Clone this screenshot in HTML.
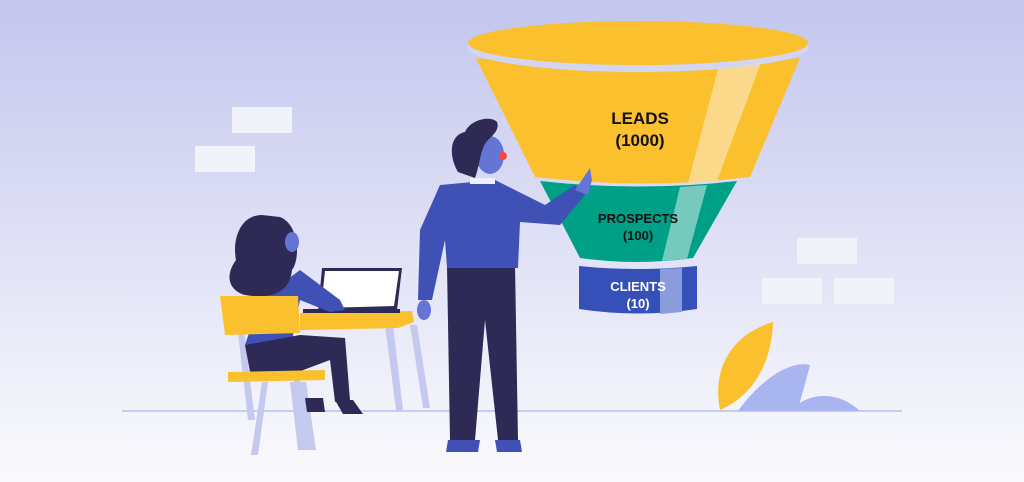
<!DOCTYPE html>
<html><head><style>
html,body{margin:0;padding:0;width:1024px;height:482px;overflow:hidden}
svg{display:block}
text{font-family:"Liberation Sans",sans-serif;font-weight:bold;text-anchor:middle}
</style></head><body>
<svg width="1024" height="482" viewBox="0 0 1024 482" xmlns="http://www.w3.org/2000/svg">
<defs>
<linearGradient id="bg" x1="0" y1="0" x2="0" y2="1">
<stop offset="0" stop-color="#c3c6ee"/><stop offset="0.85" stop-color="#f3f3fb"/><stop offset="1" stop-color="#fafafd"/>
</linearGradient>
</defs>
<rect width="1024" height="482" fill="url(#bg)"/>
<rect x="122" y="410" width="780" height="2" fill="#c5cdf5"/>
<g fill="#f1f2fa">
<rect x="232" y="107" width="60" height="26"/>
<rect x="195" y="146" width="60" height="26"/>
<rect x="797" y="238" width="60" height="26"/>
<rect x="762" y="278" width="60" height="26"/>
<rect x="834" y="278" width="60" height="26"/>
</g>
<path d="M720 410 C712 370 730 335 773 322 C772 360 755 395 720 410Z" fill="#fbc02d"/>
<path d="M738 411 C760 380 790 360 810 365 C805 385 800 400 798 411Z" fill="#a9b5f0"/>
<path d="M790 411 C810 390 840 392 860 411Z" fill="#a9b5f0"/>
<!-- funnel -->
<path d="M476 58 Q638 76 800 58 L750 177 Q642 190 535 177Z" fill="#fbc02d"/>
<path d="M720 62 L762 60 L717 181 L688 183Z" fill="#fcd98a"/>
<ellipse cx="638" cy="47" rx="171" ry="25" fill="#d3d6f2"/>
<ellipse cx="638" cy="43" rx="170" ry="22" fill="#fbc02d"/>
<path d="M540 181 Q640 192 737 181 L693 258 Q636 266 580 258Z" fill="#00a087"/>
<path d="M680 187 L707 185 L687 259 L662 261Z" fill="#76c9bd"/>
<path d="M579 266 Q638 272 697 266 L697 309 Q638 318 579 309Z" fill="#3650b9"/>
<path d="M660 269 L682 268 L682 312 L660 314Z" fill="#8a9cdb"/>
<text x="640" y="124" font-size="17" fill="#111">LEADS</text>
<text x="640" y="146" font-size="17" fill="#111">(1000)</text>
<text x="638" y="223" font-size="13" fill="#111">PROSPECTS</text>
<text x="638" y="240" font-size="13" fill="#111">(100)</text>
<text x="638" y="291" font-size="13" fill="#fff">CLIENTS</text>
<text x="638" y="308" font-size="13" fill="#fff">(10)</text>
<!-- desk -->
<g fill="#c5c9ef">
<polygon points="385,325 393,325 403,410 396,410"/>
<polygon points="410,325 417,325 430,408 423,408"/>
<polygon points="262,382 268,382 258,455 251,455"/>
<polygon points="290,382 296,382 304,450 298,450"/>
<polygon points="300,382 306,382 316,450 310,450"/>
<polygon points="234,298 240,298 255,420 248,420"/>
<polygon points="282,298 288,298 310,450 303,450"/>
</g>
<polygon points="300,313 412,311 414,322 398,328 300,330" fill="#fbc02d"/>
<polygon points="322,268 402,268 397,310 318,312" fill="#2e2a55"/>
<polygon points="325,271 399,271 394,306 321,308" fill="#fff"/>
<rect x="303" y="309" width="97" height="4" fill="#2e2a55"/>
<!-- woman -->
<path d="M260 300 L300 270 L340 300 L345 310 L330 312 L300 300 L290 350 L245 345Z" fill="#3f51b5"/>
<path d="M245 345 L300 335 L345 338 L350 400 L335 402 L330 360 L290 375 L250 372Z" fill="#2e2a55"/>
<path d="M305 398 l18 0 l2 14 l-18 0Z M335 400 l18 0 l10 14 l-20 0Z" fill="#2e2a55"/>
<path d="M262 215 C240 215 232 240 236 260 C225 275 228 290 245 295 C275 300 290 290 292 270 C300 260 300 225 280 217Z" fill="#2e2a55"/>
<ellipse cx="292" cy="242" rx="7" ry="10" fill="#6575d6"/>
<polygon points="220,296 298,296 300,333 225,335" fill="#fbc02d"/>
<polygon points="228,372 325,370 325,380 228,382" fill="#fbc02d"/>
<!-- man -->
<path d="M448 440 L480 440 L478 452 L446 452Z M495 440 L520 440 L522 452 L497 452Z" fill="#3f51b5"/>
<path d="M447 265 L515 265 L518 440 L498 440 L485 320 L475 440 L450 440Z" fill="#2e2a55"/>
<path d="M440 185 L495 180 L545 205 L575 185 L585 195 L560 225 L520 222 L518 268 L447 268 L445 240 L432 300 L418 300 L420 230Z" fill="#3f51b5"/>
<path d="M575 190 L590 168 L592 180 L588 195Z" fill="#6575d6"/>
<ellipse cx="424" cy="310" rx="7" ry="10" fill="#6575d6"/>
<ellipse cx="490" cy="155" rx="14" ry="19" fill="#6575d6"/>
<circle cx="503" cy="156" r="4" fill="#f44"/>
<path d="M458 172 C448 155 450 135 465 132 C470 120 490 115 497 122 C500 130 492 136 488 140 C480 148 480 165 475 178Z" fill="#2e2a55"/>
<rect x="470" y="178" width="25" height="6" fill="#eef"/>
</svg>
</body></html>
